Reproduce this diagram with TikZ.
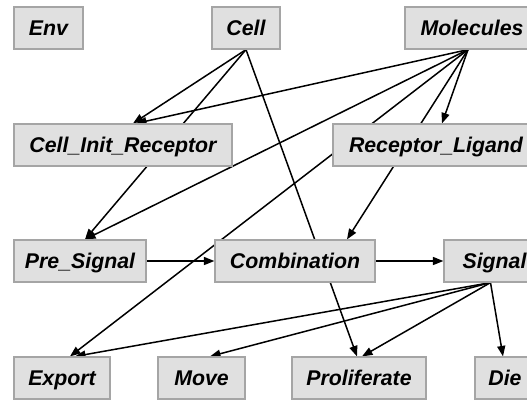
\documentclass[tikz,border=0pt]{standalone}
\usepackage{fontspec}
\setmainfont{Liberation Sans}
\usetikzlibrary{arrows.meta,calc}
\pgfdeclarelayer{bg}
\pgfsetlayers{bg,main}
\definecolor{boxfill}{RGB}{224,224,224}
\definecolor{boxline}{RGB}{165,165,165}
\begin{document}
\begin{tikzpicture}[x=1pt,y=-1pt,
  box/.style={draw=boxline, fill=boxfill, line width=1.2pt, inner sep=0pt,
    minimum height=42pt, text height=15pt, text depth=0pt,
    font=\fontsize{21.3}{25}\selectfont\bfseries\itshape},
  edge/.style={line width=1.5pt, -{Triangle[length=10.5pt,width=8pt]}}]
\useasboundingbox (0,0) rectangle (527,400);
\clip (0,0) rectangle (527,400);
% row 1
\node[box, minimum width=69pt]  (env)  at (48.5,28) {Env};
\node[box, minimum width=68pt]  (cell) at (246,28)  {Cell};
\node[box, minimum width=134pt] (mol)  at (472,28)  {Molecules};
% row 2
\node[box, minimum width=218pt] (cir)  at (123,145) {Cell\_Init\_Receptor};
\node[box, minimum width=206pt] (rl)   at (436,145) {Receptor\_Ligand};
% row 3
\node[box, minimum width=132pt] (pre)  at (80,261)  {Pre\_Signal};
\node[box, minimum width=160pt] (comb) at (295,261) {Combination};
\node[box, minimum width=101pt] (sig)  at (494.5,261) {Signal};
% row 4
\node[box, minimum width=96pt]  (exp)  at (62,378)  {Export};
\node[box, minimum width=87pt]  (move) at (201.5,378) {Move};
\node[box, minimum width=134pt] (prol) at (359,378) {Proliferate};
\node[box, minimum width=60pt]  (die)  at (505,378) {Die};
\begin{pgfonlayer}{bg}
% from Cell
\draw[edge] (cell.south) -- ([xshift=10pt]cir.north);
\draw[edge] (cell.south) -- ([xshift=5pt]pre.north);
\draw[edge] (cell.south) -- ([xshift=-2pt]prol.north);
% from Molecules
\draw[edge] ([xshift=-4pt]mol.south) -- ([xshift=13pt]cir.north);
\draw[edge] ([xshift=-4pt]mol.south) -- ([xshift=5pt]pre.north);
\draw[edge] ([xshift=-4pt]mol.south) -- ([xshift=8pt]exp.north);
\draw[edge] ([xshift=-4pt]mol.south) -- ([xshift=52pt]comb.north);
\draw[edge] ([xshift=-4pt]mol.south) -- ([xshift=6pt]rl.north);
% row 3
\draw[edge] (pre.east) -- (comb.west);
\draw[edge] (comb.east) -- (sig.west);
% from Signal
\draw[edge] ([xshift=-4pt]sig.south) -- ([xshift=13pt]exp.north);
\draw[edge] ([xshift=-4pt]sig.south) -- ([xshift=8.5pt]move.north);
\draw[edge] ([xshift=-4pt]sig.south) -- ([xshift=3pt]prol.north);
\draw[edge] ([xshift=-4pt]sig.south) -- ([xshift=-2pt]die.north);
\end{pgfonlayer}
\end{tikzpicture}
\end{document}
